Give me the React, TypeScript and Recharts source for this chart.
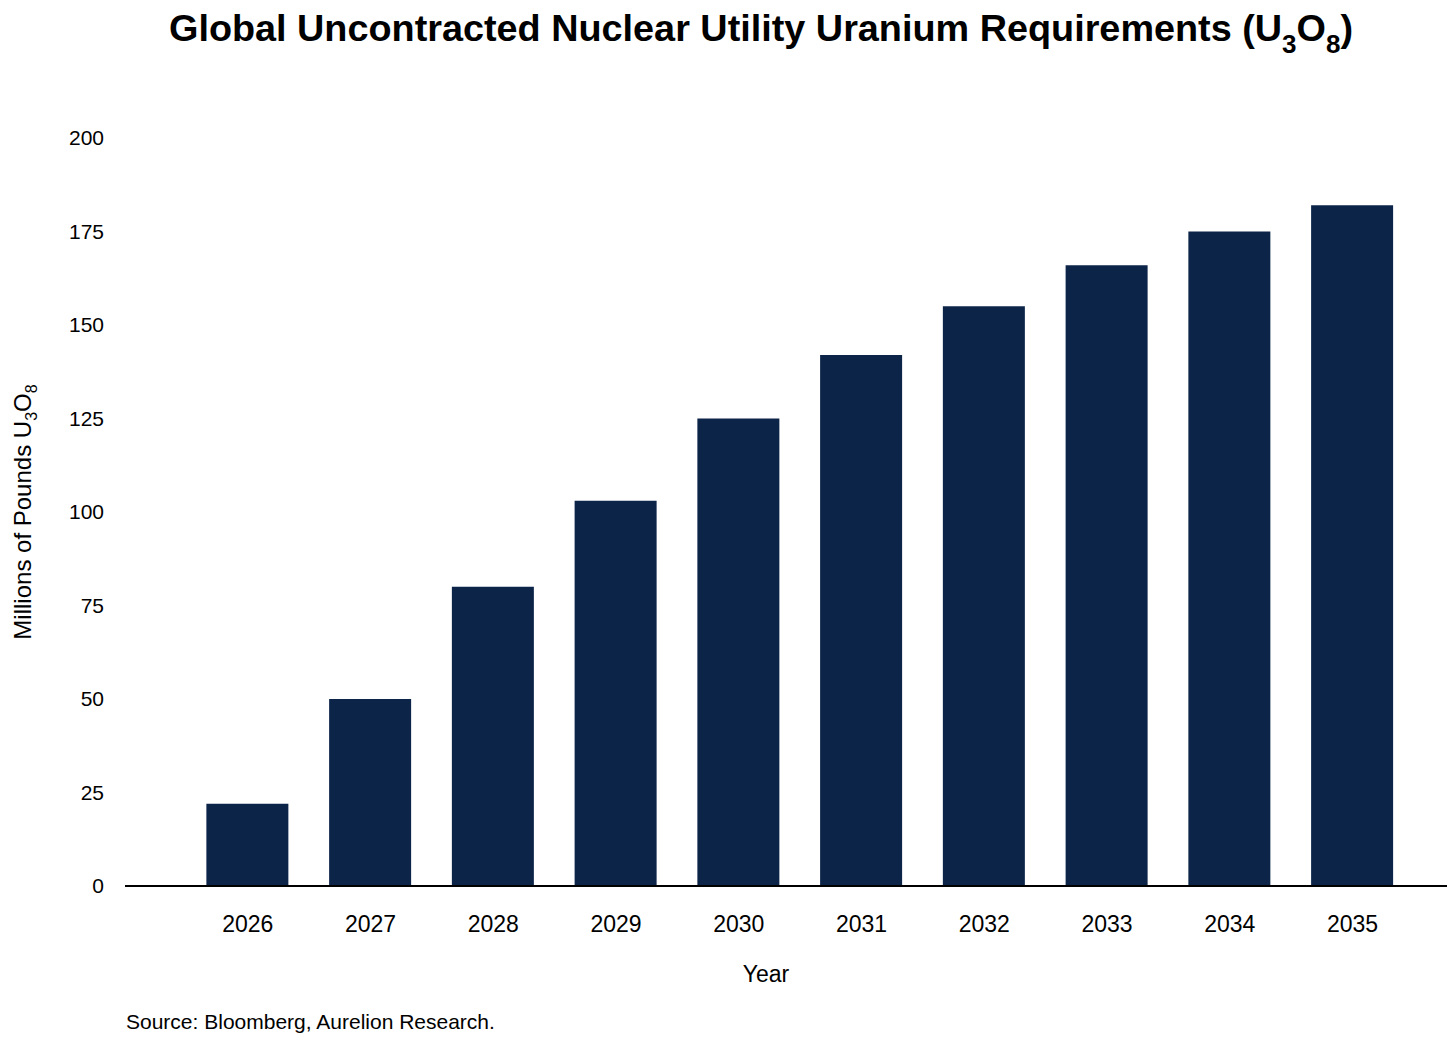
import React from "react";
import { BarChart, Bar, XAxis, YAxis, Label } from "recharts";

const years = [2026, 2027, 2028, 2029, 2030, 2031, 2032, 2033, 2034, 2035];
const requirements = [22, 50, 80, 103, 125, 142, 155, 166, 175, 182];
const yTicks = [0, 25, 50, 75, 100, 125, 150, 175, 200];

const data = years.map((year, i) => ({ year, value: requirements[i] }));

const FONT = "'Liberation Sans', Arial, sans-serif";
const NAVY = "#0c2448";

function YAxisTitle({ viewBox }: { viewBox?: { x: number; y: number; width: number; height: number } }) {
  if (!viewBox) return null;
  const cy = viewBox.y + viewBox.height / 2;
  return (
    <text
      transform={`translate(23, ${cy}) rotate(-90)`}
      textAnchor="middle"
      fontFamily={FONT}
      fontSize={24}
      fill="#000"
    >
      Millions of Pounds U
      <tspan fontSize={16} dy={6}>3</tspan>
      <tspan dy={-6}>O</tspan>
      <tspan fontSize={16} dy={6}>8</tspan>
    </text>
  );
}

export default function App() {
  return (
    <div style={{ position: "relative", width: 1440, height: 1026, fontFamily: FONT, background: "#fff" }}>
      <div
        style={{
          position: "absolute",
          top: 2,
          left: 753,
          transform: "translateX(-50%)",
          whiteSpace: "nowrap",
          fontSize: 37.8,
          fontWeight: "bold",
          lineHeight: 1,
          color: "#000",
        }}
      >
        Global Uncontracted Nuclear Utility Uranium Requirements (U
        <span style={{ fontSize: 26, position: "relative", top: 12 }}>3</span>O
        <span style={{ fontSize: 26, position: "relative", top: 12 }}>8</span>)
      </div>

      <BarChart
        width={1440}
        height={1026}
        data={data}
        margin={{ top: 130, right: 1, left: 0, bottom: 88 }}
      >
        <XAxis
          dataKey="year"
          type="number"
          domain={[2025, 2035.77]}
          ticks={years}
          allowDataOverflow
          tickLine={false}
          tickSize={0}
          tickMargin={30}
          height={60}
          axisLine={{ stroke: "#000", strokeWidth: 2 }}
          tick={{ fontSize: 23, fill: "#000", fontFamily: FONT }}
        >
          <Label
            value="Year"
            position="insideBottom"
            offset={-36}
            dx={-20}
            style={{ fontSize: 23, fill: "#000", fontFamily: FONT }}
          />
        </XAxis>
        <YAxis
          type="number"
          domain={[0, 200]}
          ticks={yTicks}
          width={117}
          axisLine={false}
          tickLine={false}
          tickSize={0}
          tickMargin={21}
          tick={{ fontSize: 21, fill: "#000", fontFamily: FONT }}
        >
          <Label content={<YAxisTitle />} />
        </YAxis>
        <Bar dataKey="value" fill={NAVY} barSize={82} isAnimationActive={false} />
      </BarChart>

      <div
        style={{
          position: "absolute",
          left: 118,
          top: 1003,
          fontSize: 21,
          lineHeight: 1,
          color: "#000",
          whiteSpace: "nowrap",
        }}
      >
        Source: Bloomberg, Aurelion Research.
      </div>
    </div>
  );
}
